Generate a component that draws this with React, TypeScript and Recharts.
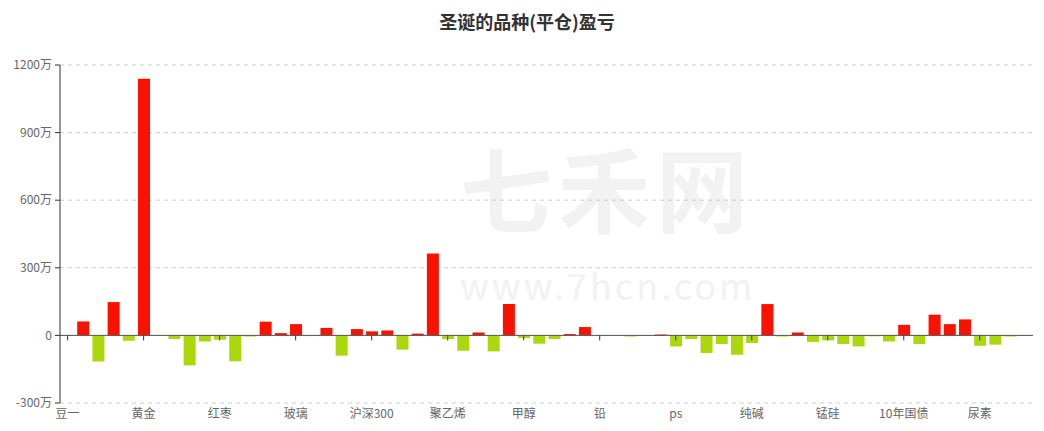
import React from 'react';
import { BarChart, Bar, XAxis, YAxis, CartesianGrid, ReferenceLine, Cell } from 'recharts';

// 品种 (only every 5th label is shown on the axis)
const categories = [
  '豆一', '豆二', '豆粕', '豆油', '白银', '黄金', '棕榈油', '棉花', '白糖', '苹果',
  '红枣', '菜粕', '菜油', '螺纹钢', '热卷', '玻璃', '铁矿石', '焦炭', '焦煤', '上证50',
  '沪深300', '中证500', '塑料', 'PVC', 'PP', '聚乙烯', '乙二醇', 'PTA', '短纤', '燃油',
  '甲醇', '沥青', '橡胶', '铜', '铝', '铅', '锌', '镍', '锡', '不锈钢',
  'ps', '苯乙烯', '纸浆', '原油', '液化气', '纯碱', '玉米', '淀粉', '鸡蛋', '生猪',
  '锰硅', '硅铁', '花生', '5年国债', '2年国债', '10年国债', '线材', '动力煤', '粳米', '棉纱',
  '尿素', '菜籽', '强麦', '普麦',
];

// 盈亏, 单位: 万
const pnl = [
  0, 62, -116, 148, -24, 1139, 0, -16, -133, -27,
  -19, -115, -5, 61, 10, 50, -3, 33, -90, 28,
  18, 22, -63, 8, 363, -16, -68, 13, -71, 139,
  -12, -37, -16, 6, 37, 0, 0, -5, -1, 4,
  -49, -16, -78, -38, -86, -34, 139, -5, 13, -29,
  -22, -38, -49, -4, -27, 47, -38, 92, 50, 71,
  -46, -41, -5, -1,
];

const yTicks = [-300, 0, 300, 600, 900, 1200];

const data = categories.map((name, i) => ({ name, value: pnl[i] }));

const FONT = '"Noto Sans CJK SC", "Noto Sans", sans-serif';
const TOP = 65;
const PLOT_H = 338;
const zeroY = TOP + PLOT_H * (1200 / 1500);

function XTick(props: any) {
  const { x, y, payload } = props;
  return (
    <g>
      <line x1={x} x2={x} y1={zeroY} y2={zeroY + 5} stroke="#333" strokeWidth={1} />
      <text x={x} y={y + 15} textAnchor="middle" fill="#666" fontSize={12} fontFamily={FONT}>
        {payload.value}
      </text>
    </g>
  );
}

export default function App() {
  return (
    <div style={{ position: 'absolute', left: 0, top: 0, width: 1044, height: 431, background: '#fff', fontFamily: FONT }}>
      {/* watermark */}
      <div style={{ position: 'absolute', left: 460, top: 140, fontSize: 92, fontWeight: 700, color: '#f2f2f2', lineHeight: 1, letterSpacing: 6 }}>
        七禾网
      </div>
      <div style={{ position: 'absolute', left: 460, top: 266, fontSize: 36, color: '#f2f2f2', lineHeight: 1, letterSpacing: 3 }}>
        www.7hcn.com
      </div>
      <div style={{ position: 'absolute', left: 0, top: 8, width: 1054, textAlign: 'center', fontSize: 18, fontWeight: 700, color: '#333' }}>
        圣诞的品种(平仓)盈亏
      </div>
      <div style={{ position: 'absolute', left: 0, top: 0 }}>
        <BarChart width={1044} height={431} data={data} margin={{ top: TOP, right: 11, bottom: 4, left: 0 }} barSize={12}>
          <CartesianGrid horizontal vertical={false} stroke="#ccc" strokeDasharray="4 4" />
          <XAxis
            dataKey="name"
            interval={4}
            axisLine={false}
            tickLine={false}
            tickSize={0}
            tickMargin={0}
            height={24}
            tick={<XTick />}
          />
          <YAxis
            domain={[-300, 1200]}
            ticks={yTicks}
            width={60}
            axisLine={{ stroke: '#333' }}
            tickLine={{ stroke: '#333' }}
            tickSize={5}
            tickMargin={3}
            tick={{ fill: '#666', fontSize: 12, fontFamily: FONT }}
            tickFormatter={(v: number) => (v === 0 ? '0' : `${v}万`)}
          />
          <ReferenceLine y={0} stroke="#555" />
          <Bar dataKey="value" isAnimationActive={false}>
            {data.map((d, i) => (
              <Cell key={`c-${i}`} fill={d.value >= 0 ? '#fa1200' : '#aad80c'} />
            ))}
          </Bar>
        </BarChart>
      </div>
    </div>
  );
}
